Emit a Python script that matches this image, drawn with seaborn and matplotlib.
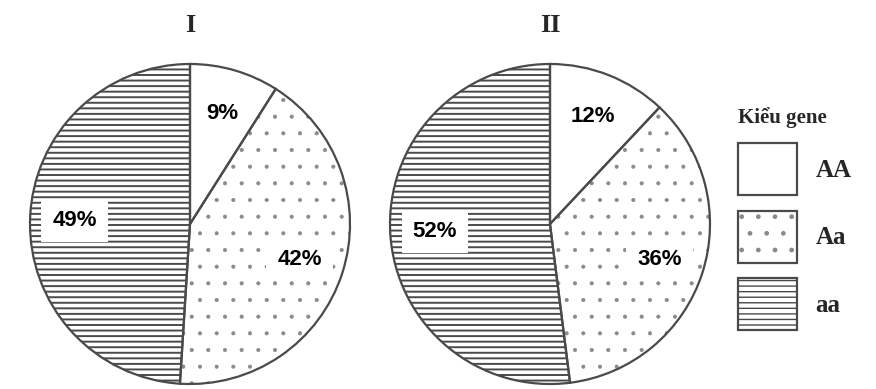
import matplotlib
matplotlib.use("Agg")
import matplotlib.pyplot as plt
import matplotlib.patches as mpatches
from matplotlib.legend_handler import HandlerTuple
import seaborn as sns

# ---- data ----
genotypes = ["AA", "Aa", "aa"]
pop_I = [9, 42, 49]
pop_II = [12, 36, 52]
titles = ["I", "II"]
legend_title = "Kiểu gene"

sns.set_theme(style="white")

hatches = ["", ".", "---"]
hatch_colors = ["white", "#8a8a8a", "#4a4a4a"]
hatch_lws = [1.0, 0.5, 1.4]
edge = "#4a4a4a"


def style_fill(p, h, hc, hlw):
    p.set_edgecolor(hc)
    p.set_linewidth(0)
    p.set_hatch(h)
    if hasattr(p, "set_hatch_linewidth"):
        p.set_hatch_linewidth(hlw)
    else:
        p._hatch_linewidth = hlw


fig = plt.figure(figsize=(8.76, 3.89), dpi=100)
W, H = 876, 389
R = 160
centers = [(190, 224), (550, 224)]

for (cx, cy), vals, ttl in zip(centers, [pop_I, pop_II], titles):
    ax = fig.add_axes([(cx - R) / W, 1 - (cy + R) / H, 2 * R / W, 2 * R / H])
    fills, _ = ax.pie(vals, startangle=90, counterclock=False, colors=["white"] * 3,
                      wedgeprops=dict(linewidth=0))
    for w, h, hc, hlw in zip(fills, hatches, hatch_colors, hatch_lws):
        style_fill(w, h, hc, hlw)
    wedges, texts, autotexts = ax.pie(
        vals, startangle=90, counterclock=False,
        autopct="%d%%", pctdistance=0.72,
        wedgeprops=dict(edgecolor=edge, linewidth=1.6, fill=False, zorder=5),
        textprops=dict(fontsize=16, fontweight="bold", family="Liberation Sans",
                       color="black"),
    )
    for t in autotexts:
        t.set_bbox(dict(facecolor="white", edgecolor="none", boxstyle="square,pad=0.5"))
    ax.set_aspect("equal")
    ax.set_xlim(-1.0, 1.0)
    ax.set_ylim(-1.0, 1.0)
    fig.text(cx / W, 1 - 25 / H, ttl, ha="center", va="center",
             fontsize=19, fontweight="bold", family="Liberation Serif")

handles = []
for h, hc, hlw in zip(hatches, hatch_colors, hatch_lws):
    p = mpatches.Patch(facecolor="white")
    style_fill(p, h, hc, hlw)
    o = mpatches.Patch(facecolor="none", edgecolor=edge, linewidth=1.6)
    handles.append((p, o))

leg = fig.legend(handles, genotypes, loc="upper left",
                 bbox_to_anchor=(733 / W, 1 - 102 / H), frameon=False,
                 title=legend_title, alignment="left",
                 handler_map={tuple: HandlerTuple(ndivide=1, pad=0)},
                 prop=dict(family="Liberation Serif", weight="bold", size=18),
                 title_fontproperties=dict(family="Liberation Serif", weight="bold", size=15),
                 handlelength=2.36, handleheight=2.82, labelspacing=0.62,
                 handletextpad=0.75, borderpad=0.2, borderaxespad=0)

fig.savefig("out.png", dpi=100)
